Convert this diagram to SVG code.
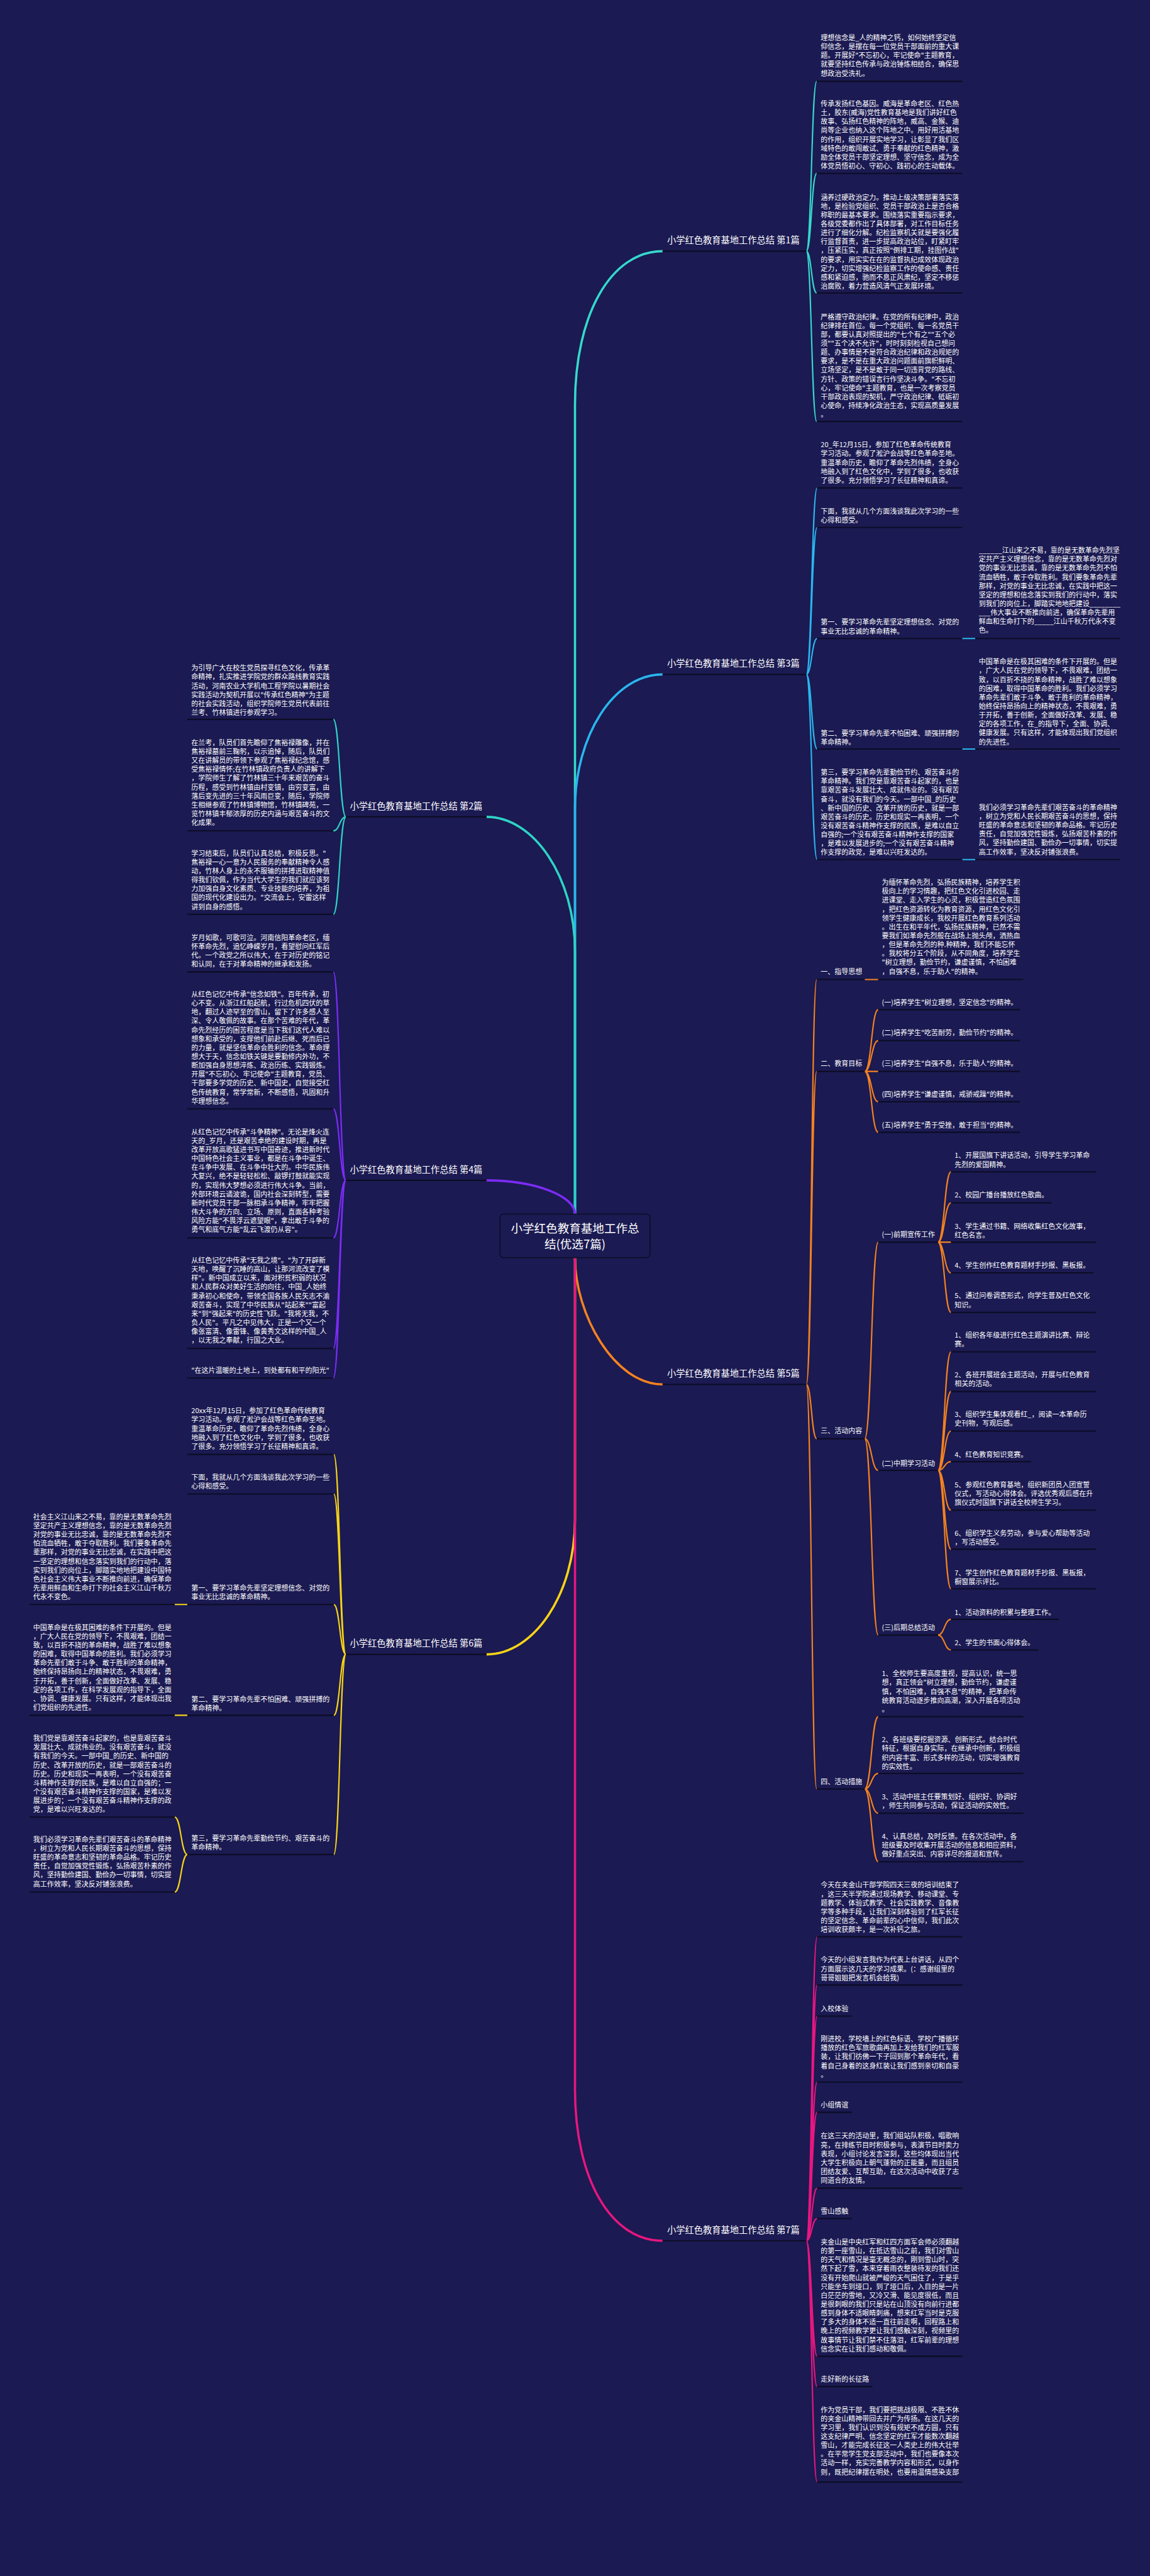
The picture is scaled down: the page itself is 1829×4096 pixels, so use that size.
<svg xmlns="http://www.w3.org/2000/svg" width="1829" height="4096" viewBox="0 0 1829 4096">
<style>
.t{font-family:"Noto Sans CJK SC","Noto Sans",sans-serif;font-size:15.4px;fill:#ffffff}
.lb{font-family:"Noto Sans CJK SC","Noto Sans",sans-serif;font-size:20px;fill:#ffffff}
.ct{font-family:"Noto Sans CJK SC","Noto Sans",sans-serif;font-size:26px;fill:#ffffff;text-anchor:middle}
.ul{stroke:#0d0c26;stroke-width:3}
.k{fill:none;stroke-width:3}
.m{fill:none;stroke-width:5}
.b1{stroke:#35d9cc}.b2{stroke:#2fd3c6}.b3{stroke:#2ab6ee}.b4{stroke:#7b2cf5}.b5{stroke:#f58220}.b6{stroke:#f7d417}.b7{stroke:#e8167f}
</style>
<rect width="1829" height="4096" fill="#1b1a52"/>
<g transform="scale(0.71445)">
<g id="connectors">
<path class="m b1" d="M1280 2702 L1280 900 C1280 700 1360 559 1475 559"/>
<path class="m b3" d="M1280 2702 L1280 1801 C1280 1635.4 1367.4 1501 1475 1501"/>
<path class="m b2" d="M1280 2702 L1280 2118 C1280 1952.4 1188.7 1818 1083 1818"/>
<path class="m b4" d="M1280 2702 C1280 2660.6 1188.7 2627 1083 2627"/>
<path class="m b5" d="M1280 2799 C1280 2925.3 1367.4 3081 1475 3081"/>
<path class="m b6" d="M1280 2799 L1280 3382 C1280 3547.6 1188.7 3682 1083 3682"/>
<path class="m b7" d="M1280 2799 L1280 4650 C1280 4850 1360 4987 1475 4987"/>
<path class="k b1" d="M1795 559 C1806.5 559 1806.5 181 1818 181 M1795 559 C1806.5 559 1806.5 386 1818 386 M1795 559 C1806.5 559 1806.5 652 1818 652 M1795 559 C1806.5 559 1806.5 938 1818 938"/>
<path class="k b3" d="M1795 1501 C1807 1501 1807 1086 1819 1086 M1795 1501 C1807 1501 1807 1174 1819 1174 M1795 1501 C1807 1501 1807 1421 1819 1421 M1795 1501 C1807 1501 1807 1667 1819 1667 M1795 1501 C1807 1501 1807 1913 1819 1913 M2142 1421 H2171 M2142 1667 H2171 M2142 1913 H2171"/>
<path class="k b2" d="M770 1818 C756 1818 756 1601 742 1601 M770 1818 C756 1818 756 1849 742 1849 M770 1818 C756 1818 756 2035 742 2035"/>
<path class="k b4" d="M770 2627 C756 2627 756 2163 742 2163 M770 2627 C756 2627 756 2468 742 2468 M770 2627 C756 2627 756 2755 742 2755 M770 2627 C756 2627 756 3001 742 3001 M770 2627 C756 2627 756 3067 742 3067"/>
<path class="k b5" d="M1795 3081 C1806.5 3081 1806.5 2180 1818 2180 M1795 3081 C1806.5 3081 1806.5 2384.5 1818 2384.5 M1795 3081 C1806.5 3081 1806.5 3202 1818 3202 M1795 3081 C1806.5 3081 1806.5 3981.5 1818 3981.5 M1925 2180 H1955 M1925 2384.5 C1940 2384.5 1940 2247 1955 2247 M1925 2384.5 C1940 2384.5 1940 2316 1955 2316 M1925 2384.5 H1955 M1925 2384.5 C1940 2384.5 1940 2452 1955 2452 M1925 2384.5 C1940 2384.5 1940 2520 1955 2520 M1925 3202 C1940 3202 1940 2764.6 1955 2764.6 M1925 3202 C1940 3202 1940 3272.5 1955 3272.5 M1925 3202 C1940 3202 1940 3639 1955 3639 M1925 3981.5 C1940 3981.5 1940 3820.6 1955 3820.6 M1925 3981.5 C1940 3981.5 1940 3947 1955 3947 M1925 3981.5 C1940 3981.5 1940 4035.5 1955 4035.5 M1925 3981.5 C1940 3981.5 1940 4143.4 1955 4143.4 M2088 2764.6 C2102.5 2764.6 2102.5 2608 2117 2608 M2088 2764.6 C2102.5 2764.6 2102.5 2677 2117 2677 M2088 2764.6 H2117 M2088 2764.6 C2102.5 2764.6 2102.5 2833 2117 2833 M2088 2764.6 C2102.5 2764.6 2102.5 2921 2117 2921 M2088 3272.5 C2102.5 3272.5 2102.5 3008.6 2117 3008.6 M2088 3272.5 C2102.5 3272.5 2102.5 3097 2117 3097 M2088 3272.5 C2102.5 3272.5 2102.5 3185 2117 3185 M2088 3272.5 C2102.5 3272.5 2102.5 3253 2117 3253 M2088 3272.5 C2102.5 3272.5 2102.5 3361 2117 3361 M2088 3272.5 C2102.5 3272.5 2102.5 3448 2117 3448 M2088 3272.5 C2102.5 3272.5 2102.5 3536 2117 3536 M2088 3639 C2102.5 3639 2102.5 3604 2117 3604 M2088 3639 C2102.5 3639 2102.5 3672 2117 3672"/>
<path class="k b6" d="M770 3682 C756.5 3682 756.5 3237 743 3237 M770 3682 C756.5 3682 756.5 3325 743 3325 M770 3682 C756.5 3682 756.5 3571 743 3571 M770 3682 C756.5 3682 756.5 3817.5 743 3817.5 M770 3682 C756.5 3682 756.5 4127.5 743 4127.5 M417 3571 H389 M417 3817.5 H389 M417 4127.5 C403 4127.5 403 4044 389 4044 M417 4127.5 C403 4127.5 403 4211 389 4211"/>
<path class="k b7" d="M1795 4987 C1807 4987 1807 4310.5 1819 4310.5 M1795 4987 C1807 4987 1807 4418 1819 4418 M1795 4987 C1807 4987 1807 4487 1819 4487 M1795 4987 C1807 4987 1807 4634 1819 4634 M1795 4987 C1807 4987 1807 4701 1819 4701 M1795 4987 C1807 4987 1807 4870 1819 4870 M1795 4987 C1807 4987 1807 4937.5 1819 4937.5 M1795 4987 C1807 4987 1807 5244 1819 5244 M1795 4987 C1807 4987 1807 5311.6 1819 5311.6 M1795 4987 C1807 4987 1807 5524 1819 5524"/>
</g>

<g id="center">
<rect x="1113" y="2702" width="334" height="97" rx="8" fill="#1b1a52" stroke="#0d0c26" stroke-width="2"/>
<text class="ct" x="1280" y="2743">小学红色教育基地工作总</text>
<text class="ct" x="1280" y="2778">结(优选7篇)</text>
</g>

<g id="label-b1"><line class="ul" x1="1475" y1="559" x2="1795" y2="559"/><text class="lb" x="1485" y="542">小学红色教育基地工作总结 第1篇</text></g>
<g id="label-b3"><line class="ul" x1="1475" y1="1501" x2="1795" y2="1501"/><text class="lb" x="1485" y="1484">小学红色教育基地工作总结 第3篇</text></g>
<g id="label-b2"><line class="ul" x1="770" y1="1818" x2="1083" y2="1818"/><text class="lb" x="779" y="1801">小学红色教育基地工作总结 第2篇</text></g>
<g id="label-b4"><line class="ul" x1="770" y1="2627" x2="1083" y2="2627"/><text class="lb" x="779" y="2610">小学红色教育基地工作总结 第4篇</text></g>
<g id="label-b5"><line class="ul" x1="1475" y1="3081" x2="1795" y2="3081"/><text class="lb" x="1485" y="3064">小学红色教育基地工作总结 第5篇</text></g>
<g id="label-b6"><line class="ul" x1="770" y1="3682" x2="1083" y2="3682"/><text class="lb" x="779" y="3665">小学红色教育基地工作总结 第6篇</text></g>
<g id="label-b7"><line class="ul" x1="1475" y1="4987" x2="1795" y2="4987"/><text class="lb" x="1485" y="4970">小学红色教育基地工作总结 第7篇</text></g>

<!-- Branch 1 -->
<g id="b1-1"><line class="ul" x1="1818" y1="181" x2="2142" y2="181"/><text class="t" x="1827" y="89.5"><tspan x="1827">理想信念是_人的精神之钙，如何始终坚定信</tspan><tspan x="1827" dy="19.8">仰信念，是摆在每一位党员干部面前的重大课</tspan><tspan x="1827" dy="19.8">题。开展好"不忘初心，牢记使命"主题教育，</tspan><tspan x="1827" dy="19.8">就要坚持红色传承与政治锤炼相结合，确保思</tspan><tspan x="1827" dy="19.8">想政治受洗礼。</tspan></text></g>
<g id="b1-2"><line class="ul" x1="1818" y1="386" x2="2142" y2="386"/><text class="t" x="1827" y="236.5"><tspan x="1827">传承发扬红色基因。威海是革命老区、红色热</tspan><tspan x="1827" dy="19.8">土，胶东(威海)党性教育基地是我们讲好红色</tspan><tspan x="1827" dy="19.8">故事、弘扬红色精神的阵地，威高、金猴、迪</tspan><tspan x="1827" dy="19.8">尚等企业也纳入这个阵地之中。用好用活基地</tspan><tspan x="1827" dy="19.8">的作用，组织开展实地学习，让彰显了我们区</tspan><tspan x="1827" dy="19.8">域特色的敢闯敢试、勇于奉献的红色精神，激</tspan><tspan x="1827" dy="19.8">励全体党员干部坚定理想、坚守信念，成为全</tspan><tspan x="1827" dy="19.8">体党员悟初心、守初心、践初心的生动载体。</tspan></text></g>
<g id="b1-3"><line class="ul" x1="1818" y1="652" x2="2142" y2="652"/><text class="t" x="1827" y="444.5"><tspan x="1827">涵养过硬政治定力。推动上级决策部署落实落</tspan><tspan x="1827" dy="19.8">地，是检验党组织、党员干部政治上是否合格</tspan><tspan x="1827" dy="19.8">称职的最基本要求。围绕落实重要指示要求，</tspan><tspan x="1827" dy="19.8">各级党委都作出了具体部署，对工作目标任务</tspan><tspan x="1827" dy="19.8">进行了细化分解。纪检监察机关就是要强化履</tspan><tspan x="1827" dy="19.8">行监督首责，进一步提高政治站位，盯紧盯牢</tspan><tspan x="1827" dy="19.8">，压紧压实，真正按照"倒排工期，挂图作战"</tspan><tspan x="1827" dy="19.8">的要求，用实实在在的监督执纪成效体现政治</tspan><tspan x="1827" dy="19.8">定力，切实增强纪检监察工作的使命感、责任</tspan><tspan x="1827" dy="19.8">感和紧迫感，驰而不息正风肃纪，坚定不移惩</tspan><tspan x="1827" dy="19.8">治腐败，着力营造风清气正发展环境。</tspan></text></g>
<g id="b1-4"><line class="ul" x1="1818" y1="938" x2="2142" y2="938"/><text class="t" x="1827" y="710.5"><tspan x="1827">严格遵守政治纪律。在党的所有纪律中，政治</tspan><tspan x="1827" dy="19.8">纪律排在首位。每一个党组织、每一名党员干</tspan><tspan x="1827" dy="19.8">部，都要认真对照提出的"七个有之""五个必</tspan><tspan x="1827" dy="19.8">须""五个决不允许"，时时刻刻检视自己想问</tspan><tspan x="1827" dy="19.8">题、办事情是不是符合政治纪律和政治规矩的</tspan><tspan x="1827" dy="19.8">要求，是不是在重大政治问题面前旗帜鲜明、</tspan><tspan x="1827" dy="19.8">立场坚定，是不是敢于同一切违背党的路线、</tspan><tspan x="1827" dy="19.8">方针、政策的错误言行作坚决斗争。"不忘初</tspan><tspan x="1827" dy="19.8">心，牢记使命"主题教育，也是一次考察党员</tspan><tspan x="1827" dy="19.8">干部政治表现的契机，严守政治纪律、砥砺初</tspan><tspan x="1827" dy="19.8">心使命，持续净化政治生态，实现高质量发展</tspan><tspan x="1827" dy="19.8">。</tspan></text></g>

<!-- Branch 3 -->
<g id="b3-1"><line class="ul" x1="1819" y1="1086" x2="2142" y2="1086"/><text class="t" x="1827" y="995.5"><tspan x="1827">20_年12月15日，参加了红色革命传统教育</tspan><tspan x="1827" dy="19.8">学习活动。参观了淞沪会战等红色革命圣地。</tspan><tspan x="1827" dy="19.8">重温革命历史，瞻仰了革命先烈伟绩，全身心</tspan><tspan x="1827" dy="19.8">地融入到了红色文化中，学到了很多，也收获</tspan><tspan x="1827" dy="19.8">了很多。充分领悟学习了长征精神和真谛。</tspan></text></g>
<g id="b3-2"><line class="ul" x1="1819" y1="1174" x2="2142" y2="1174"/><text class="t" x="1827" y="1144"><tspan x="1827">下面，我就从几个方面浅谈我此次学习的一些</tspan><tspan x="1827" dy="19.8">心得和感受。</tspan></text></g>
<g id="b3-3"><line class="ul" x1="1819" y1="1421" x2="2142" y2="1421"/><text class="t" x="1827" y="1390.5"><tspan x="1827">第一、要学习革命先辈坚定理想信念、对党的</tspan><tspan x="1827" dy="19.8">事业无比忠诚的革命精神。</tspan></text></g>
<g id="b3-3c"><line class="ul" x1="2171" y1="1421" x2="2494" y2="1421"/><text class="t" x="2179" y="1230.5"><tspan x="2179">______江山来之不易，靠的是无数革命先烈坚</tspan><tspan x="2179" dy="19.8">定共产主义理想信念，靠的是无数革命先烈对</tspan><tspan x="2179" dy="19.8">党的事业无比忠诚，靠的是无数革命先烈不怕</tspan><tspan x="2179" dy="19.8">流血牺牲，敢于夺取胜利。我们要象革命先辈</tspan><tspan x="2179" dy="19.8">那样，对党的事业无比忠诚，在实践中把这一</tspan><tspan x="2179" dy="19.8">坚定的理想和信念落实到我们的行动中，落实</tspan><tspan x="2179" dy="19.8">到我们的岗位上，脚踏实地地把建设________</tspan><tspan x="2179" dy="19.8">___伟大事业不断推向前进，确保革命先辈用</tspan><tspan x="2179" dy="19.8">鲜血和生命打下的_____江山千秋万代永不变</tspan><tspan x="2179" dy="19.8">色。</tspan></text></g>
<g id="b3-4"><line class="ul" x1="1819" y1="1667" x2="2142" y2="1667"/><text class="t" x="1827" y="1637.5"><tspan x="1827">第二、要学习革命先辈不怕困难、顽强拼搏的</tspan><tspan x="1827" dy="19.8">革命精神。</tspan></text></g>
<g id="b3-4c"><line class="ul" x1="2171" y1="1667" x2="2494" y2="1667"/><text class="t" x="2179" y="1478.5"><tspan x="2179">中国革命是在极其困难的条件下开展的。但是</tspan><tspan x="2179" dy="19.8">，广大人民在党的领导下，不畏艰难，团结一</tspan><tspan x="2179" dy="19.8">致，以百折不挠的革命精神，战胜了难以想象</tspan><tspan x="2179" dy="19.8">的困难，取得中国革命的胜利。我们必须学习</tspan><tspan x="2179" dy="19.8">革命先辈们敢于斗争、敢于胜利的革命精神，</tspan><tspan x="2179" dy="19.8">始终保持昂扬向上的精神状态，不畏艰难，勇</tspan><tspan x="2179" dy="19.8">于开拓，善于创新，全面做好改革、发展、稳</tspan><tspan x="2179" dy="19.8">定的各项工作，在_的指导下，全面、协调、</tspan><tspan x="2179" dy="19.8">健康发展。只有这样，才能体现出我们党组织</tspan><tspan x="2179" dy="19.8">的先进性。</tspan></text></g>
<g id="b3-5"><line class="ul" x1="1819" y1="1913" x2="2142" y2="1913"/><text class="t" x="1827" y="1724.5"><tspan x="1827">第三，要学习革命先辈勤俭节约、艰苦奋斗的</tspan><tspan x="1827" dy="19.8">革命精神。我们党是靠艰苦奋斗起家的，也是</tspan><tspan x="1827" dy="19.8">靠艰苦奋斗发展壮大、成就伟业的。没有艰苦</tspan><tspan x="1827" dy="19.8">奋斗，就没有我们的今天。一部中国_的历史</tspan><tspan x="1827" dy="19.8">、新中国的历史、改革开放的历史，就是一部</tspan><tspan x="1827" dy="19.8">艰苦奋斗的历史。历史和现实一再表明，一个</tspan><tspan x="1827" dy="19.8">没有艰苦奋斗精神作支撑的民族，是难以自立</tspan><tspan x="1827" dy="19.8">自强的;一个没有艰苦奋斗精神作支撑的国家</tspan><tspan x="1827" dy="19.8">，是难以发展进步的;一个没有艰苦奋斗精神</tspan><tspan x="1827" dy="19.8">作支撑的政党，是难以兴旺发达的。</tspan></text></g>
<g id="b3-5c"><line class="ul" x1="2171" y1="1913" x2="2494" y2="1913"/><text class="t" x="2179" y="1802.5"><tspan x="2179">我们必须学习革命先辈们艰苦奋斗的革命精神</tspan><tspan x="2179" dy="19.8">，树立为党和人民长期艰苦奋斗的思想，保持</tspan><tspan x="2179" dy="19.8">旺盛的革命意志和坚韧的革命品格。牢记历史</tspan><tspan x="2179" dy="19.8">责任，自觉加强党性锻炼，弘扬艰苦朴素的作</tspan><tspan x="2179" dy="19.8">风，坚持勤俭建国、勤俭办一切事情，切实提</tspan><tspan x="2179" dy="19.8">高工作效率，坚决反对铺张浪费。</tspan></text></g>

<!-- Branch 2 -->
<g id="b2-1"><line class="ul" x1="417" y1="1601" x2="742" y2="1601"/><text class="t" x="426" y="1492.5"><tspan x="426">为引导广大在校生党员探寻红色文化，传承革</tspan><tspan x="426" dy="19.8">命精神，扎实推进学院党的群众路线教育实践</tspan><tspan x="426" dy="19.8">活动，河南农业大学机电工程学院以暑期社会</tspan><tspan x="426" dy="19.8">实践活动为契机开展以"传承红色精神"为主题</tspan><tspan x="426" dy="19.8">的社会实践活动，组织学院师生党员代表前往</tspan><tspan x="426" dy="19.8">兰考、竹林镇进行参观学习。</tspan></text></g>
<g id="b2-2"><line class="ul" x1="417" y1="1849" x2="742" y2="1849"/><text class="t" x="426" y="1658.5"><tspan x="426">在兰考，队员们首先瞻仰了焦裕禄雕像，并在</tspan><tspan x="426" dy="19.8">焦裕禄墓前三鞠躬，以示追悼，随后，队员们</tspan><tspan x="426" dy="19.8">又在讲解员的带领下参观了焦裕禄纪念馆，感</tspan><tspan x="426" dy="19.8">受焦裕禄情怀;在竹林镇政府负责人的讲解下</tspan><tspan x="426" dy="19.8">，学院师生了解了竹林镇三十年来艰苦的奋斗</tspan><tspan x="426" dy="19.8">历程，感受到竹林镇由村变镇，由穷变富，由</tspan><tspan x="426" dy="19.8">落后变先进的三十年风雨巨变，随后，学院师</tspan><tspan x="426" dy="19.8">生相继参观了竹林镇博物馆，竹林镇碑苑，一</tspan><tspan x="426" dy="19.8">览竹林镇丰郁浓厚的历史内涵与艰苦奋斗的文</tspan><tspan x="426" dy="19.8">化成果。</tspan></text></g>
<g id="b2-3"><line class="ul" x1="417" y1="2035" x2="742" y2="2035"/><text class="t" x="426" y="1904.5"><tspan x="426">学习结束后，队员们认真总结，积极反思。"</tspan><tspan x="426" dy="19.8">焦裕禄一心一意为人民服务的奉献精神令人感</tspan><tspan x="426" dy="19.8">动，竹林人身上的永不服输的拼搏进取精神值</tspan><tspan x="426" dy="19.8">得我们钦佩，作为当代大学生的我们就应该努</tspan><tspan x="426" dy="19.8">力加强自身文化素质、专业技能的培养，为祖</tspan><tspan x="426" dy="19.8">国的现代化建设出力。"交流会上，安雷这样</tspan><tspan x="426" dy="19.8">讲到自身的感悟。</tspan></text></g>

<!-- Branch 4 -->
<g id="b4-1"><line class="ul" x1="417" y1="2163" x2="742" y2="2163"/><text class="t" x="426" y="2092.5"><tspan x="426">岁月如歌，可歌可泣。河南信阳革命老区，缅</tspan><tspan x="426" dy="19.8">怀革命先烈，追忆峥嵘岁月，看望慰问红军后</tspan><tspan x="426" dy="19.8">代。一个政党之所以伟大，在于对历史的铭记</tspan><tspan x="426" dy="19.8">和认同，在于对革命精神的继承和发扬。</tspan></text></g>
<g id="b4-2"><line class="ul" x1="417" y1="2468" x2="742" y2="2468"/><text class="t" x="426" y="2218.5"><tspan x="426">从红色记忆中传承"信念如铁"。百年传承，初</tspan><tspan x="426" dy="19.8">心不变。从浙江红船起航，行过危机四伏的草</tspan><tspan x="426" dy="19.8">地，翻过人迹罕至的雪山，留下了许多感人至</tspan><tspan x="426" dy="19.8">深、令人敬佩的故事。在那个苦难的年代，革</tspan><tspan x="426" dy="19.8">命先烈经历的困苦程度是当下我们这代人难以</tspan><tspan x="426" dy="19.8">想象和承受的，支撑他们前赴后继、死而后已</tspan><tspan x="426" dy="19.8">的力量，就是坚信革命会胜利的信念。革命理</tspan><tspan x="426" dy="19.8">想大于天，信念如铁关键是要勤修内外功，不</tspan><tspan x="426" dy="19.8">断加强自身思想淬炼、政治历练、实践锻炼。</tspan><tspan x="426" dy="19.8">开展"不忘初心、牢记使命"主题教育，党员、</tspan><tspan x="426" dy="19.8">干部要多学党的历史、新中国史，自觉接受红</tspan><tspan x="426" dy="19.8">色传统教育，常学常新，不断感悟，巩固和升</tspan><tspan x="426" dy="19.8">华理想信念。</tspan></text></g>
<g id="b4-3"><line class="ul" x1="417" y1="2755" x2="742" y2="2755"/><text class="t" x="426" y="2524.5"><tspan x="426">从红色记忆中传承"斗争精神"。无论是烽火连</tspan><tspan x="426" dy="19.8">天的_岁月，还是艰苦卓绝的建设时期，再是</tspan><tspan x="426" dy="19.8">改革开放高歌猛进书写中国奇迹，推进新时代</tspan><tspan x="426" dy="19.8">中国特色社会主义事业，都是在斗争中诞生、</tspan><tspan x="426" dy="19.8">在斗争中发展、在斗争中壮大的。中华民族伟</tspan><tspan x="426" dy="19.8">大复兴，绝不是轻轻松松、敲锣打鼓就能实现</tspan><tspan x="426" dy="19.8">的，实现伟大梦想必须进行伟大斗争。当前，</tspan><tspan x="426" dy="19.8">外部环境云谲波诡，国内社会深刻转型，需要</tspan><tspan x="426" dy="19.8">新时代党员干部一脉相承斗争精神，牢牢把握</tspan><tspan x="426" dy="19.8">伟大斗争的方向、立场、原则，直面各种考验</tspan><tspan x="426" dy="19.8">风险方能"不畏浮云遮望眼"，拿出敢于斗争的</tspan><tspan x="426" dy="19.8">勇气和底气方能"乱云飞渡仍从容"。</tspan></text></g>
<g id="b4-4"><line class="ul" x1="417" y1="3001" x2="742" y2="3001"/><text class="t" x="426" y="2810.5"><tspan x="426">从红色记忆中传承"无我之境"。"为了开辟新</tspan><tspan x="426" dy="19.8">天地，唤醒了沉睡的高山，让那河流改变了模</tspan><tspan x="426" dy="19.8">样"。新中国成立以来，面对积贫积弱的状况</tspan><tspan x="426" dy="19.8">和人民群众对美好生活的向往，中国_人始终</tspan><tspan x="426" dy="19.8">秉承初心和使命，带领全国各族人民矢志不渝</tspan><tspan x="426" dy="19.8">艰苦奋斗，实现了中华民族从"站起来""富起</tspan><tspan x="426" dy="19.8">来"到"强起来"的历史性飞跃。"我将无我，不</tspan><tspan x="426" dy="19.8">负人民"。平凡之中见伟大，正是一个又一个</tspan><tspan x="426" dy="19.8">像张富清、像雷锋、像黄秀文这样的中国_人</tspan><tspan x="426" dy="19.8">，以无我之奉献，行国之大业。</tspan></text></g>
<g id="b4-5"><line class="ul" x1="417" y1="3067" x2="742" y2="3067"/><text class="t" x="426" y="3055.5">"在这片温暖的土地上，到处都有和平的阳光"</text></g>

<!-- Branch 5 -->
<g id="b5-1"><line class="ul" x1="1818" y1="2180" x2="1925" y2="2180"/><text class="t" x="1827" y="2168.5">一、指导思想</text></g>
<g id="b5-1a"><line class="ul" x1="1955" y1="2180" x2="2278" y2="2180"/><text class="t" x="1963" y="1969.5"><tspan x="1963">为缅怀革命先烈，弘扬民族精神，培养学生积</tspan><tspan x="1963" dy="19.8">极向上的学习情趣，把红色文化引进校园、走</tspan><tspan x="1963" dy="19.8">进课堂、走入学生的心灵，积极营造红色氛围</tspan><tspan x="1963" dy="19.8">，把红色资源转化为教育资源，用红色文化引</tspan><tspan x="1963" dy="19.8">领学生健康成长，我校开展红色教育系列活动</tspan><tspan x="1963" dy="19.8">。出生在和平年代，弘扬民族精神，已然不需</tspan><tspan x="1963" dy="19.8">要我们如革命先烈般在战场上抛头颅，洒热血</tspan><tspan x="1963" dy="19.8">，但是革命先烈的种.种精神，我们不能忘怀</tspan><tspan x="1963" dy="19.8">。我校将分五个阶段，从不同角度，培养学生</tspan><tspan x="1963" dy="19.8">"树立理想，勤俭节约，谦虚谨慎，不怕困难</tspan><tspan x="1963" dy="19.8">，自强不息，乐于助人"的精神。</tspan></text></g>
<g id="b5-2"><line class="ul" x1="1818" y1="2384.5" x2="1925" y2="2384.5"/><text class="t" x="1827" y="2372.5">二、教育目标</text></g>
<g id="b5-2a"><line class="ul" x1="1955" y1="2247" x2="2270" y2="2247"/><text class="t" x="1963" y="2237">(一)培养学生"树立理想，坚定信念"的精神。</text></g>
<g id="b5-2b"><line class="ul" x1="1955" y1="2316" x2="2270" y2="2316"/><text class="t" x="1963" y="2304.5">(二)培养学生"吃苦耐劳，勤俭节约"的精神。</text></g>
<g id="b5-2c"><line class="ul" x1="1955" y1="2384.5" x2="2270" y2="2384.5"/><text class="t" x="1963" y="2372.5">(三)培养学生"自强不息，乐于助人"的精神。</text></g>
<g id="b5-2d"><line class="ul" x1="1955" y1="2452" x2="2270" y2="2452"/><text class="t" x="1963" y="2441">(四)培养学生"谦虚谨慎，戒骄戒躁"的精神。</text></g>
<g id="b5-2e"><line class="ul" x1="1955" y1="2520" x2="2270" y2="2520"/><text class="t" x="1963" y="2509.5">(五)培养学生"勇于受挫，敢于担当"的精神。</text></g>
<g id="b5-3"><line class="ul" x1="1818" y1="3202" x2="1925" y2="3202"/><text class="t" x="1827" y="3190.5">三、活动内容</text></g>
<g id="b5-3a"><line class="ul" x1="1955" y1="2764.6" x2="2088" y2="2764.6"/><text class="t" x="1963" y="2753.5">(一)前期宣传工作</text></g>
<g id="b5-3a1"><line class="ul" x1="2117" y1="2608" x2="2440" y2="2608"/><text class="t" x="2125" y="2577.5"><tspan x="2125">1、开展国旗下讲话活动，引导学生学习革命</tspan><tspan x="2125" dy="19.8">先烈的爱国精神。</tspan></text></g>
<g id="b5-3a2"><line class="ul" x1="2117" y1="2677" x2="2341" y2="2677"/><text class="t" x="2125" y="2665.5">2、校园广播台播放红色歌曲。</text></g>
<g id="b5-3a3"><line class="ul" x1="2117" y1="2764.6" x2="2440" y2="2764.6"/><text class="t" x="2125" y="2734.5"><tspan x="2125">3、学生通过书籍、网络收集红色文化故事，</tspan><tspan x="2125" dy="19.8">红色名言。</tspan></text></g>
<g id="b5-3a4"><line class="ul" x1="2117" y1="2833" x2="2434" y2="2833"/><text class="t" x="2125" y="2821.5">4、学生创作红色教育题材手抄报、黑板报。</text></g>
<g id="b5-3a5"><line class="ul" x1="2117" y1="2921" x2="2440" y2="2921"/><text class="t" x="2125" y="2889.5"><tspan x="2125">5、通过问卷调查形式，向学生普及红色文化</tspan><tspan x="2125" dy="19.8">知识。</tspan></text></g>
<g id="b5-3b"><line class="ul" x1="1955" y1="3272.5" x2="2088" y2="3272.5"/><text class="t" x="1963" y="3262">(二)中期学习活动</text></g>
<g id="b5-3b1"><line class="ul" x1="2117" y1="3008.6" x2="2440" y2="3008.6"/><text class="t" x="2125" y="2977.5"><tspan x="2125">1、组织各年级进行红色主题演讲比赛、辩论</tspan><tspan x="2125" dy="19.8">赛。</tspan></text></g>
<g id="b5-3b2"><line class="ul" x1="2117" y1="3097" x2="2440" y2="3097"/><text class="t" x="2125" y="3065.5"><tspan x="2125">2、各班开展班会主题活动，开展与红色教育</tspan><tspan x="2125" dy="19.8">相关的活动。</tspan></text></g>
<g id="b5-3b3"><line class="ul" x1="2117" y1="3185" x2="2440" y2="3185"/><text class="t" x="2125" y="3153.5"><tspan x="2125">3、组织学生集体观看红_，阅读一本革命历</tspan><tspan x="2125" dy="19.8">史刊物，写观后感。</tspan></text></g>
<g id="b5-3b4"><line class="ul" x1="2117" y1="3253" x2="2295" y2="3253"/><text class="t" x="2125" y="3242.5">4、红色教育知识竞赛。</text></g>
<g id="b5-3b5"><line class="ul" x1="2117" y1="3361" x2="2440" y2="3361"/><text class="t" x="2125" y="3310.5"><tspan x="2125">5、参观红色教育基地，组织新团员入团宣誓</tspan><tspan x="2125" dy="19.8">仪式，写活动心得体会。评选优秀观后感在升</tspan><tspan x="2125" dy="19.8">旗仪式时国旗下讲话全校师生学习。</tspan></text></g>
<g id="b5-3b6"><line class="ul" x1="2117" y1="3448" x2="2440" y2="3448"/><text class="t" x="2125" y="3417.5"><tspan x="2125">6、组织学生义务劳动，参与爱心帮助等活动</tspan><tspan x="2125" dy="19.8">，写活动感受。</tspan></text></g>
<g id="b5-3b7"><line class="ul" x1="2117" y1="3536" x2="2440" y2="3536"/><text class="t" x="2125" y="3505.5"><tspan x="2125">7、学生创作红色教育题材手抄报、黑板报，</tspan><tspan x="2125" dy="19.8">橱窗展示评比。</tspan></text></g>
<g id="b5-3c"><line class="ul" x1="1955" y1="3639" x2="2088" y2="3639"/><text class="t" x="1963" y="3628.5">(三)后期总结活动</text></g>
<g id="b5-3c1"><line class="ul" x1="2117" y1="3604" x2="2357" y2="3604"/><text class="t" x="2125" y="3594">1、活动资料的积累与整理工作。</text></g>
<g id="b5-3c2"><line class="ul" x1="2117" y1="3672" x2="2311" y2="3672"/><text class="t" x="2125" y="3662">2、学生的书面心得体会。</text></g>
<g id="b5-4"><line class="ul" x1="1818" y1="3981.5" x2="1925" y2="3981.5"/><text class="t" x="1827" y="3970.5">四、活动措施</text></g>
<g id="b5-4a"><line class="ul" x1="1955" y1="3820.6" x2="2278" y2="3820.6"/><text class="t" x="1963" y="3730.5"><tspan x="1963">1、全校师生要高度重视，提高认识，统一思</tspan><tspan x="1963" dy="19.8">想，真正领会"树立理想，勤俭节约，谦虚谨</tspan><tspan x="1963" dy="19.8">慎，不怕困难，自强不息"的精神，把革命传</tspan><tspan x="1963" dy="19.8">统教育活动逐步推向高潮，深入开展各项活动</tspan><tspan x="1963" dy="19.8">。</tspan></text></g>
<g id="b5-4b"><line class="ul" x1="1955" y1="3947" x2="2278" y2="3947"/><text class="t" x="1963" y="3877.5"><tspan x="1963">2、各班级要挖掘资源、创新形式。结合时代</tspan><tspan x="1963" dy="19.8">特征，根据自身实际，在继承中创新，积极组</tspan><tspan x="1963" dy="19.8">织内容丰富、形式多样的活动，切实增强教育</tspan><tspan x="1963" dy="19.8">的实效性。</tspan></text></g>
<g id="b5-4c"><line class="ul" x1="1955" y1="4035.5" x2="2278" y2="4035.5"/><text class="t" x="1963" y="4004.5"><tspan x="1963">3、活动中班主任要策划好、组织好、协调好</tspan><tspan x="1963" dy="19.8">，师生共同参与活动，保证活动的实效性。</tspan></text></g>
<g id="b5-4d"><line class="ul" x1="1955" y1="4143.4" x2="2278" y2="4143.4"/><text class="t" x="1963" y="4092.5"><tspan x="1963">4、认真总结，及时反馈。在各次活动中，各</tspan><tspan x="1963" dy="19.8">班级要及时收集开展活动的信息和相应资料，</tspan><tspan x="1963" dy="19.8">做好重点突出、内容详尽的报道和宣传。</tspan></text></g>

<!-- Branch 6 -->
<g id="b6-1"><line class="ul" x1="417" y1="3237" x2="743" y2="3237"/><text class="t" x="426" y="3145.5"><tspan x="426">20xx年12月15日，参加了红色革命传统教育</tspan><tspan x="426" dy="19.8">学习活动。参观了淞沪会战等红色革命圣地。</tspan><tspan x="426" dy="19.8">重温革命历史，瞻仰了革命先烈伟绩，全身心</tspan><tspan x="426" dy="19.8">地融入到了红色文化中，学到了很多，也收获</tspan><tspan x="426" dy="19.8">了很多。充分领悟学习了长征精神和真谛。</tspan></text></g>
<g id="b6-2"><line class="ul" x1="417" y1="3325" x2="743" y2="3325"/><text class="t" x="426" y="3293.5"><tspan x="426">下面，我就从几个方面浅谈我此次学习的一些</tspan><tspan x="426" dy="19.8">心得和感受。</tspan></text></g>
<g id="b6-3"><line class="ul" x1="417" y1="3571" x2="743" y2="3571"/><text class="t" x="426" y="3539.5"><tspan x="426">第一、要学习革命先辈坚定理想信念、对党的</tspan><tspan x="426" dy="19.8">事业无比忠诚的革命精神。</tspan></text></g>
<g id="b6-3c"><line class="ul" x1="66" y1="3571" x2="389" y2="3571"/><text class="t" x="74" y="3381.5"><tspan x="74">社会主义江山来之不易，靠的是无数革命先烈</tspan><tspan x="74" dy="19.8">坚定共产主义理想信念，靠的是无数革命先烈</tspan><tspan x="74" dy="19.8">对党的事业无比忠诚，靠的是无数革命先烈不</tspan><tspan x="74" dy="19.8">怕流血牺牲，敢于夺取胜利。我们要象革命先</tspan><tspan x="74" dy="19.8">辈那样，对党的事业无比忠诚，在实践中把这</tspan><tspan x="74" dy="19.8">一坚定的理想和信念落实到我们的行动中，落</tspan><tspan x="74" dy="19.8">实到我们的岗位上，脚踏实地地把建设中国特</tspan><tspan x="74" dy="19.8">色社会主义伟大事业不断推向前进，确保革命</tspan><tspan x="74" dy="19.8">先辈用鲜血和生命打下的社会主义江山千秋万</tspan><tspan x="74" dy="19.8">代永不变色。</tspan></text></g>
<g id="b6-4"><line class="ul" x1="417" y1="3817.5" x2="743" y2="3817.5"/><text class="t" x="426" y="3787.5"><tspan x="426">第二、要学习革命先辈不怕困难、顽强拼搏的</tspan><tspan x="426" dy="19.8">革命精神。</tspan></text></g>
<g id="b6-4c"><line class="ul" x1="66" y1="3817.5" x2="389" y2="3817.5"/><text class="t" x="74" y="3627.5"><tspan x="74">中国革命是在极其困难的条件下开展的。但是</tspan><tspan x="74" dy="19.8">，广大人民在党的领导下，不畏艰难，团结一</tspan><tspan x="74" dy="19.8">致，以百折不挠的革命精神，战胜了难以想象</tspan><tspan x="74" dy="19.8">的困难，取得中国革命的胜利。我们必须学习</tspan><tspan x="74" dy="19.8">革命先辈们敢于斗争、敢于胜利的革命精神，</tspan><tspan x="74" dy="19.8">始终保持昂扬向上的精神状态，不畏艰难，勇</tspan><tspan x="74" dy="19.8">于开拓，善于创新，全面做好改革、发展、稳</tspan><tspan x="74" dy="19.8">定的各项工作，在科学发展观的指导下，全面</tspan><tspan x="74" dy="19.8">、协调、健康发展。只有这样，才能体现出我</tspan><tspan x="74" dy="19.8">们党组织的先进性。</tspan></text></g>
<g id="b6-5"><line class="ul" x1="417" y1="4127.5" x2="743" y2="4127.5"/><text class="t" x="426" y="4096.5"><tspan x="426">第三，要学习革命先辈勤俭节约、艰苦奋斗的</tspan><tspan x="426" dy="19.8">革命精神。</tspan></text></g>
<g id="b6-5c1"><line class="ul" x1="66" y1="4044" x2="389" y2="4044"/><text class="t" x="74" y="3874.5"><tspan x="74">我们党是靠艰苦奋斗起家的，也是靠艰苦奋斗</tspan><tspan x="74" dy="19.8">发展壮大、成就伟业的。没有艰苦奋斗，就没</tspan><tspan x="74" dy="19.8">有我们的今天。一部中国_的历史、新中国的</tspan><tspan x="74" dy="19.8">历史、改革开放的历史，就是一部艰苦奋斗的</tspan><tspan x="74" dy="19.8">历史。历史和现实一再表明，一个没有艰苦奋</tspan><tspan x="74" dy="19.8">斗精神作支撑的民族，是难以自立自强的；一</tspan><tspan x="74" dy="19.8">个没有艰苦奋斗精神作支撑的国家，是难以发</tspan><tspan x="74" dy="19.8">展进步的；一个没有艰苦奋斗精神作支撑的政</tspan><tspan x="74" dy="19.8">党，是难以兴旺发达的。</tspan></text></g>
<g id="b6-5c2"><line class="ul" x1="66" y1="4211" x2="389" y2="4211"/><text class="t" x="74" y="4099.5"><tspan x="74">我们必须学习革命先辈们艰苦奋斗的革命精神</tspan><tspan x="74" dy="19.8">，树立为党和人民长期艰苦奋斗的思想，保持</tspan><tspan x="74" dy="19.8">旺盛的革命意志和坚韧的革命品格。牢记历史</tspan><tspan x="74" dy="19.8">责任，自觉加强党性锻炼，弘扬艰苦朴素的作</tspan><tspan x="74" dy="19.8">风，坚持勤俭建国、勤俭办一切事情，切实提</tspan><tspan x="74" dy="19.8">高工作效率，坚决反对铺张浪费。</tspan></text></g>

<!-- Branch 7 -->
<g id="b7-1"><line class="ul" x1="1819" y1="4310.5" x2="2142" y2="4310.5"/><text class="t" x="1827" y="4201"><tspan x="1827">今天在夹金山干部学院四天三夜的培训结束了</tspan><tspan x="1827" dy="19.8">，这三天半学院通过现场教学、移动课堂、专</tspan><tspan x="1827" dy="19.8">题教学、体验式教学、社会实践教学、音像教</tspan><tspan x="1827" dy="19.8">学等多种手段，让我们深刻体验到了红军长征</tspan><tspan x="1827" dy="19.8">的坚定信念、革命前辈的心中信仰，我们此次</tspan><tspan x="1827" dy="19.8">培训收获颇丰，是一次补钙之旅。</tspan></text></g>
<g id="b7-2"><line class="ul" x1="1819" y1="4418" x2="2142" y2="4418"/><text class="t" x="1827" y="4367.5"><tspan x="1827">今天的小组发言我作为代表上台讲话，从四个</tspan><tspan x="1827" dy="19.8">方面展示这几天的学习成果。(：感谢组里的</tspan><tspan x="1827" dy="19.8">哥哥姐姐把发言机会给我)</tspan></text></g>
<g id="b7-3"><line class="ul" x1="1819" y1="4487" x2="1896" y2="4487"/><text class="t" x="1827" y="4475.5">入校体验</text></g>
<g id="b7-4"><line class="ul" x1="1819" y1="4634" x2="2142" y2="4634"/><text class="t" x="1827" y="4543.5"><tspan x="1827">刚进校，学校墙上的红色标语、学校广播循环</tspan><tspan x="1827" dy="19.8">播放的红色军旅歌曲再加上发给我们的红军服</tspan><tspan x="1827" dy="19.8">装，让我们彷佛一下子回到那个革命年代，看</tspan><tspan x="1827" dy="19.8">着自己身着的这身红装让我们感到亲切和自豪</tspan><tspan x="1827" dy="19.8">。</tspan></text></g>
<g id="b7-5"><line class="ul" x1="1819" y1="4701" x2="1896" y2="4701"/><text class="t" x="1827" y="4690.5">小组情谊</text></g>
<g id="b7-6"><line class="ul" x1="1819" y1="4870" x2="2142" y2="4870"/><text class="t" x="1827" y="4759.5"><tspan x="1827">在这三天的活动里，我们组站队积极，唱歌响</tspan><tspan x="1827" dy="19.8">亮，在排练节目时积极参与，表演节目时卖力</tspan><tspan x="1827" dy="19.8">表现，小组讨论发言深刻，这些均体现出当代</tspan><tspan x="1827" dy="19.8">大学生积极向上朝气蓬勃的正能量，而且组员</tspan><tspan x="1827" dy="19.8">团结友爱、互帮互助，在这次活动中收获了志</tspan><tspan x="1827" dy="19.8">同道合的友情。</tspan></text></g>
<g id="b7-7"><line class="ul" x1="1819" y1="4937.5" x2="1896" y2="4937.5"/><text class="t" x="1827" y="4926.5">雪山感触</text></g>
<g id="b7-8"><line class="ul" x1="1819" y1="5244" x2="2142" y2="5244"/><text class="t" x="1827" y="4995.5"><tspan x="1827">夹金山是中央红军和红四方面军会师必须翻越</tspan><tspan x="1827" dy="19.8">的第一座雪山，在抵达雪山之前，我们对雪山</tspan><tspan x="1827" dy="19.8">的天气和情况是毫无概念的，刚到雪山时，突</tspan><tspan x="1827" dy="19.8">然下起了雪，本来穿着雨衣整装待发的我们还</tspan><tspan x="1827" dy="19.8">没有开始爬山就被严峻的天气困住了，于是乎</tspan><tspan x="1827" dy="19.8">只能坐车到垭口，到了垭口后，入目的是一片</tspan><tspan x="1827" dy="19.8">白茫茫的雪地，又冷又滑、能见度很低，而且</tspan><tspan x="1827" dy="19.8">是很刺眼的我们只是站在山顶没有向前行进都</tspan><tspan x="1827" dy="19.8">感到身体不适眼睛刺痛，想来红军当时是克服</tspan><tspan x="1827" dy="19.8">了多大的身体不适一直往前走啊，回程路上和</tspan><tspan x="1827" dy="19.8">晚上的视频教学更让我们感触深刻，视频里的</tspan><tspan x="1827" dy="19.8">故事情节让我们禁不住落泪，红军前辈的理想</tspan><tspan x="1827" dy="19.8">信念实在让我们感动和敬佩。</tspan></text></g>
<g id="b7-9"><line class="ul" x1="1819" y1="5311.6" x2="1942" y2="5311.6"/><text class="t" x="1827" y="5300">走好新的长征路</text></g>
<g id="b7-10"><line class="ul" x1="1819" y1="5524" x2="2142" y2="5524"/><text class="t" x="1827" y="5368.5"><tspan x="1827">作为党员干部，我们要把挑战极限、不胜不休</tspan><tspan x="1827" dy="19.8">的夹金山精神带回去并广为传扬。在这几天的</tspan><tspan x="1827" dy="19.8">学习里，我们认识到没有规矩不成方圆，只有</tspan><tspan x="1827" dy="19.8">这支纪律严明、信念坚定的红军才能数次翻越</tspan><tspan x="1827" dy="19.8">雪山，才能完成长征这一人类史上的伟大壮举</tspan><tspan x="1827" dy="19.8">。在平常学生党支部活动中，我们也要像本次</tspan><tspan x="1827" dy="19.8">活动一样，充实完善教学内容和形式，以身作</tspan><tspan x="1827" dy="19.8">则，既把纪律摆在明处，也要用温情感染支部</tspan></text></g>
</g>
</svg>
